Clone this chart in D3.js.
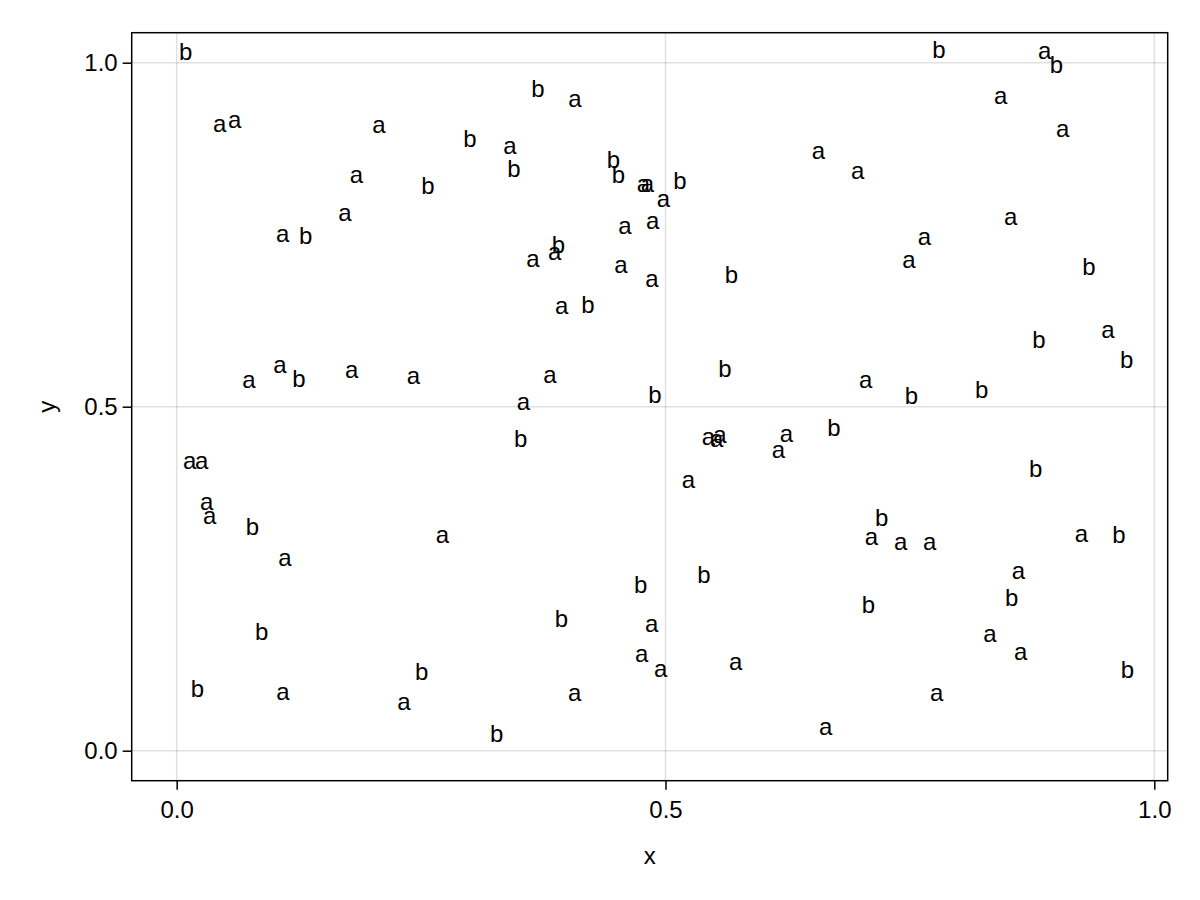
<!DOCTYPE html>
<html>
<head>
<meta charset="utf-8">
<script src="https://cdn.jsdelivr.net/npm/d3@7"></script>
<style>
  html, body { margin: 0; padding: 0; background: #fff; }
  svg { display: block; }
  text { font-family: "Liberation Sans", Arial, Helvetica, sans-serif; }
</style>
</head>
<body>
<svg id="chart" width="1200" height="900"></svg>
<script>
// ---- data ----
const labels = [
  "b","a","a","a","b","a","b","a","a","b",
  "b","a","a","b","b","b","a","a","b","a",
  "a","a","a","b","a","a","a","a","b",
  "b","a","b","a","a","a","a","a","a","b",
  "a","a","b","a","a","a","a","a","a","b","a",
  "a","b","a","a","b","b","b","a","a","a","a","a","a",
  "b","a","b","a","b","b","b","b","b","a","a","a","a","b",
  "a","b","b","a","a","b",
  "b","b","b","a","a","a","a","a","b",
  "a","b","b","a","a","b","a","a"
];
const xValues = [
  0.0018,0.0366,0.0520,0.1996,0.2927,0.1765,0.2497,0.1648,0.1011,0.1246,
  0.3622,0.4001,0.3336,0.3377,0.4393,0.4445,0.4700,0.4741,0.5075,0.4905,
  0.4512,0.4795,0.6490,0.3831,0.3793,0.3571,0.4471,0.4788,0.5601,
  0.7724,0.8805,0.8925,0.8355,0.8989,0.6892,0.8458,0.7575,0.7417,0.9258,
  0.0666,0.0983,0.1177,0.1716,0.2348,0.0059,0.0182,0.0233,0.0264,0.0701,0.2644,
  0.3865,0.4134,0.3745,0.3473,0.3445,0.4819,0.5535,0.5365,0.5450,0.5484,0.6163,0.6081,0.5161,
  0.8747,0.9453,0.9644,0.6974,0.7442,0.8161,0.6650,0.8713,0.7138,0.7033,0.7332,0.7629,0.9181,0.9565,
  0.1034,0.0796,0.0138,0.1014,0.2251,0.2432,
  0.4673,0.5320,0.3862,0.4785,0.4683,0.4877,0.5644,0.3998,0.3200,
  0.8536,0.7002,0.8468,0.8246,0.8560,0.9651,0.7700,0.6565
];
const yValues = [
  0.9959,0.8917,0.8967,0.8903,0.8699,0.8167,0.8007,0.7624,0.7310,0.7280,
  0.9426,0.9280,0.8593,0.8263,0.8385,0.8167,0.8036,0.8045,0.8080,0.7827,
  0.7430,0.7499,0.8516,0.7150,0.7052,0.6946,0.6868,0.6664,0.6714,
  0.9984,0.9969,0.9766,0.9320,0.8844,0.8225,0.7561,0.7270,0.6940,0.6834,
  0.5196,0.5406,0.5211,0.5342,0.5250,0.4010,0.4010,0.3419,0.3211,0.3055,0.2935,
  0.6263,0.6278,0.5260,0.4872,0.4339,0.4978,0.5356,0.4363,0.4339,0.4388,0.4411,0.4170,0.3743,
  0.5778,0.5914,0.5478,0.5188,0.4955,0.5051,0.4499,0.3903,0.3190,0.2910,0.2837,0.2837,0.2958,0.2935,
  0.2605,0.1529,0.0705,0.0657,0.0512,0.0948,
  0.2208,0.2362,0.1714,0.1650,0.1214,0.0996,0.1093,0.0642,0.0051,
  0.2411,0.1926,0.2023,0.1496,0.1238,0.0981,0.0647,0.0148
];
const xTicks = [0.0, 0.5, 1.0];
const yTicks = [0.0, 0.5, 1.0];
const xTickLabels = ["0.0", "0.5", "1.0"];
const yTickLabels = ["0.0", "0.5", "1.0"];
const xDomain = [-0.046, 1.0137];
const yDomain = [-0.0436, 1.0436];
const xLabel = "x";
const yLabel = "y";

// ---- layout ----
const plot = { left: 131.7, right: 1167.7, top: 32.7, bottom: 780.7 };
const fontSize = 24;
const tickLen = 9;

const svg = d3.select("#chart");
const x = d3.scaleLinear().domain(xDomain).range([plot.left, plot.right]);
const y = d3.scaleLinear().domain(yDomain).range([plot.bottom, plot.top]);

// grid
const grid = svg.append("g");
grid.selectAll("line.gx").data(xTicks).enter().append("line")
  .attr("x1", d => x(d)).attr("x2", d => x(d))
  .attr("y1", plot.top).attr("y2", plot.bottom)
  .attr("stroke", "rgba(0,0,0,0.12)").attr("stroke-width", 1.5);
grid.selectAll("line.gy").data(yTicks).enter().append("line")
  .attr("y1", d => y(d)).attr("y2", d => y(d))
  .attr("x1", plot.left).attr("x2", plot.right)
  .attr("stroke", "rgba(0,0,0,0.12)").attr("stroke-width", 1.5);

// text marks
svg.append("g").selectAll("text").data(labels).enter().append("text")
  .attr("x", (d, i) => x(xValues[i]))
  .attr("y", (d, i) => y(yValues[i]))
  .attr("dx", 0.5)
  .attr("dy", -5.5)
  .attr("font-size", fontSize)
  .attr("fill", "#000")
  .attr("text-anchor", "start")
  .text(d => d);

// axes
const xAxis = d3.axisBottom(x).tickValues(xTicks)
  .tickFormat((d, i) => xTickLabels[i]).tickSizeInner(tickLen).tickSizeOuter(0).tickPadding(11);
const yAxis = d3.axisLeft(y).tickValues(yTicks)
  .tickFormat((d, i) => yTickLabels[i]).tickSizeInner(tickLen).tickSizeOuter(0).tickPadding(5);

const gx = svg.append("g").attr("transform", `translate(0,${plot.bottom})`).call(xAxis);
const gy = svg.append("g").attr("transform", `translate(${plot.left},0)`).call(yAxis);
[gx, gy].forEach(g => {
  g.select(".domain").remove();
  g.selectAll(".tick line").attr("stroke", "#000").attr("stroke-width", 1.5);
  g.selectAll(".tick text").attr("font-size", fontSize).attr("fill", "#000")
    .style("font-family", '"Liberation Sans", Arial, Helvetica, sans-serif');
});

// frame
svg.append("rect")
  .attr("x", plot.left).attr("y", plot.top)
  .attr("width", plot.right - plot.left).attr("height", plot.bottom - plot.top)
  .attr("fill", "none").attr("stroke", "#000").attr("stroke-width", 1.5);

// axis labels
svg.append("text")
  .attr("x", (plot.left + plot.right) / 2).attr("y", 864)
  .attr("text-anchor", "middle").attr("font-size", fontSize).attr("fill", "#000")
  .text(xLabel);
svg.append("text")
  .attr("transform", `translate(55,${(plot.top + plot.bottom) / 2}) rotate(-90)`)
  .attr("text-anchor", "middle").attr("font-size", fontSize).attr("fill", "#000")
  .text(yLabel);
</script>
</body>
</html>
